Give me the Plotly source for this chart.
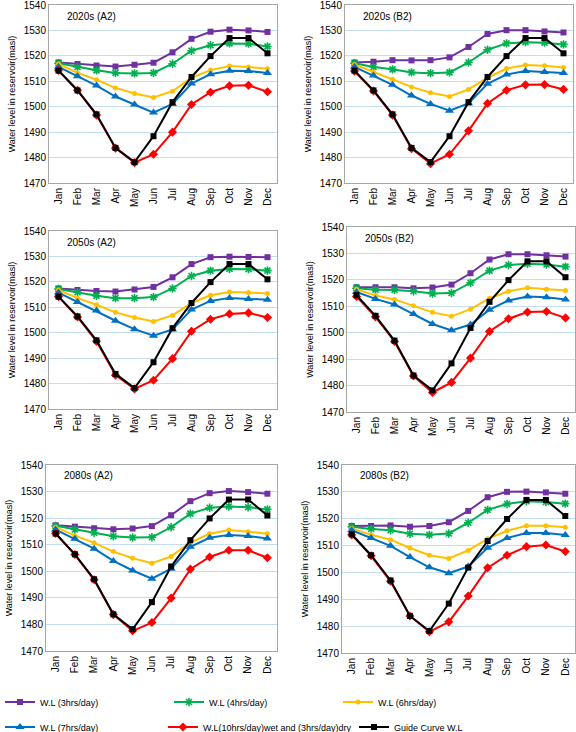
import plotly.graph_objects as go

months = ["Jan", "Feb", "Mar", "Apr", "May", "Jun", "Jul", "Aug", "Sep", "Oct", "Nov", "Dec"]
y_ticks = [1470, 1480, 1490, 1500, 1510, 1520, 1530, 1540]

guide_curve = [1514.2, 1506.4, 1497.0, 1483.8, 1478.2, 1488.4, 1501.8, 1511.7, 1519.9, 1527.0, 1527.0, 1521.0]

# 2020s (A2)
a2_2020_3h = [1517.4, 1516.8, 1516.2, 1515.8, 1516.5, 1517.3, 1521.4, 1526.7, 1529.5, 1530.3, 1530.0, 1529.4]
a2_2020_4h = [1517.1, 1515.6, 1514.3, 1513.3, 1513.1, 1513.3, 1516.9, 1522.0, 1524.2, 1524.9, 1524.8, 1523.7]
a2_2020_6h = [1516.8, 1513.3, 1510.6, 1507.4, 1505.2, 1503.6, 1506.1, 1511.4, 1514.4, 1516.0, 1515.6, 1514.9]
a2_2020_7h = [1515.7, 1512.0, 1508.3, 1504.0, 1500.9, 1497.7, 1501.1, 1509.1, 1512.8, 1514.1, 1514.0, 1513.3]
a2_2020_10h = [1514.3, 1506.5, 1496.7, 1483.7, 1478.0, 1481.3, 1490.0, 1500.9, 1505.7, 1508.2, 1508.4, 1505.9]

# 2020s (B2)
b2_2020_3h = [1517.4, 1517.7, 1518.3, 1518.2, 1518.3, 1519.4, 1523.5, 1528.6, 1530.1, 1530.1, 1529.6, 1529.2]
b2_2020_4h = [1517.1, 1515.6, 1514.7, 1513.5, 1513.2, 1513.5, 1517.4, 1522.4, 1524.9, 1525.4, 1525.2, 1524.5]
b2_2020_6h = [1516.6, 1513.6, 1510.8, 1507.8, 1505.5, 1504.0, 1506.8, 1511.4, 1515.0, 1516.4, 1516.1, 1515.4]
b2_2020_7h = [1515.7, 1512.3, 1508.6, 1504.4, 1501.1, 1498.4, 1501.3, 1509.0, 1512.7, 1514.0, 1513.7, 1513.3]
b2_2020_10h = [1514.0, 1506.2, 1496.7, 1483.5, 1477.6, 1481.3, 1490.5, 1501.3, 1506.5, 1508.6, 1508.7, 1506.8]

# 2050s (A2)
a2_2050_3h = [1517.4, 1516.8, 1516.4, 1516.2, 1517.0, 1518.0, 1521.8, 1527.0, 1529.7, 1529.9, 1529.8, 1529.7]
a2_2050_4h = [1517.2, 1515.9, 1514.5, 1513.6, 1513.6, 1514.0, 1517.4, 1522.3, 1524.4, 1525.1, 1525.0, 1524.4]
a2_2050_6h = [1516.8, 1513.6, 1511.0, 1508.0, 1506.0, 1504.4, 1506.8, 1511.7, 1514.7, 1516.0, 1515.8, 1515.4]
a2_2050_7h = [1515.8, 1512.1, 1508.7, 1504.7, 1501.4, 1498.8, 1501.3, 1509.1, 1512.5, 1513.7, 1513.3, 1513.0]
a2_2050_10h = [1514.2, 1506.2, 1496.6, 1483.3, 1477.9, 1481.3, 1489.8, 1500.6, 1505.3, 1507.4, 1507.8, 1506.0]

# 2050s (B2)
b2_2050_3h = [1517.2, 1517.2, 1517.2, 1516.8, 1517.1, 1518.2, 1522.5, 1527.7, 1529.7, 1529.7, 1529.3, 1528.8]
b2_2050_4h = [1516.8, 1516.3, 1516.2, 1515.7, 1514.8, 1515.0, 1518.9, 1523.5, 1525.6, 1526.1, 1525.8, 1525.0]
b2_2050_6h = [1516.4, 1514.1, 1512.6, 1510.2, 1507.7, 1506.2, 1508.9, 1513.0, 1515.7, 1517.0, 1516.4, 1516.0]
b2_2050_7h = [1515.4, 1512.8, 1510.7, 1507.1, 1503.3, 1500.9, 1503.1, 1508.7, 1512.2, 1513.7, 1513.4, 1512.6]
b2_2050_10h = [1513.7, 1506.0, 1496.7, 1483.6, 1477.4, 1481.2, 1490.4, 1500.5, 1505.3, 1507.8, 1508.0, 1505.6]

# 2080s (A2)
a2_2080_3h = [1517.3, 1516.8, 1516.2, 1515.8, 1516.1, 1517.0, 1521.1, 1526.4, 1529.4, 1530.2, 1529.8, 1529.2]
a2_2080_4h = [1517.1, 1515.7, 1514.5, 1513.2, 1512.7, 1512.8, 1516.6, 1521.7, 1523.9, 1524.4, 1524.1, 1523.3]
a2_2080_6h = [1516.6, 1513.4, 1510.7, 1507.4, 1504.9, 1503.0, 1505.6, 1510.9, 1514.1, 1515.5, 1514.9, 1514.1]
a2_2080_7h = [1515.7, 1512.2, 1508.5, 1503.9, 1500.3, 1497.2, 1501.0, 1509.2, 1512.6, 1513.7, 1513.3, 1512.3]
a2_2080_10h = [1514.2, 1506.3, 1496.8, 1483.7, 1477.6, 1480.7, 1489.9, 1500.8, 1505.4, 1507.9, 1507.9, 1505.1]

# 2080s (B2)
b2_2080_3h = [1517.3, 1517.3, 1517.5, 1517.0, 1517.3, 1518.7, 1522.9, 1528.0, 1530.0, 1530.1, 1529.8, 1529.3]
b2_2080_4h = [1517.0, 1516.2, 1515.7, 1514.4, 1514.0, 1514.5, 1518.5, 1523.3, 1525.5, 1526.5, 1526.2, 1525.6]
b2_2080_6h = [1516.4, 1514.0, 1512.2, 1509.1, 1506.4, 1505.2, 1508.2, 1512.5, 1515.5, 1517.4, 1517.4, 1516.8]
b2_2080_7h = [1515.7, 1512.8, 1509.9, 1505.7, 1501.9, 1499.7, 1502.2, 1509.2, 1512.8, 1514.7, 1514.7, 1513.9]
b2_2080_10h = [1514.0, 1506.2, 1496.7, 1483.8, 1477.9, 1481.6, 1491.2, 1501.7, 1506.4, 1509.6, 1510.2, 1507.8]

panel_titles = ["2020s (A2)", "2020s (B2)", "2050s (A2)", "2050s (B2)", "2080s (A2)", "2080s (B2)"]
panel_series = [
    [a2_2020_3h, a2_2020_4h, a2_2020_6h, a2_2020_7h, a2_2020_10h],
    [b2_2020_3h, b2_2020_4h, b2_2020_6h, b2_2020_7h, b2_2020_10h],
    [a2_2050_3h, a2_2050_4h, a2_2050_6h, a2_2050_7h, a2_2050_10h],
    [b2_2050_3h, b2_2050_4h, b2_2050_6h, b2_2050_7h, b2_2050_10h],
    [a2_2080_3h, a2_2080_4h, a2_2080_6h, a2_2080_7h, a2_2080_10h],
    [b2_2080_3h, b2_2080_4h, b2_2080_6h, b2_2080_7h, b2_2080_10h],
]
series_names = ["W.L (3hrs/day)", "W.L (4hrs/day)", "W.L (6hrs/day)",
                "W.L (7hrs/day)", "W.L(10hrs/day)wet and (3hrs/day)dry", "Guide Curve W.L"]

colors = ["#7030A0", "#00B050", "#FFC000", "#0070C0", "#FF0000", "#000000"]
symbols = ["square", "asterisk-open", "circle", "triangle-up", "diamond", "square"]
msizes = [6, 7, 5, 8, 7, 6]
legend_of = ["legend", "legend", "legend", "legend2", "legend4", "legend3"]

W, H = 576, 732
# plot-area pixel boxes: (left, right, top, bottom)
boxes = [(49, 277, 5, 183), (345, 573, 5, 183),
         (49, 277, 231, 409), (347, 575, 227, 412),
         (46, 277, 465, 651), (342, 575, 465, 653)]

fig = go.Figure()
FONT = "Liberation Sans, Arial, sans-serif"
layout_axes = {}
annotations = []
for i, (title, series) in enumerate(zip(panel_titles, panel_series)):
    n = i + 1
    xa = "x" if n == 1 else f"x{n}"
    ya = "y" if n == 1 else f"y{n}"
    all_series = series + [guide_curve]
    for k, ys in enumerate(all_series):
        mk = dict(symbol=symbols[k], size=msizes[k], color=colors[k])
        if symbols[k] == "asterisk-open":
            mk["line"] = dict(color=colors[k], width=1.6)
        fig.add_trace(go.Scatter(
            x=months, y=ys, mode="lines+markers", name=series_names[k],
            line=dict(color=colors[k], width=2), marker=mk,
            xaxis=xa, yaxis=ya, showlegend=(n == 1), legend=legend_of[k],
        ))
    l, r, t, b = boxes[i]
    xkey = "xaxis" if n == 1 else f"xaxis{n}"
    ykey = "yaxis" if n == 1 else f"yaxis{n}"
    layout_axes[xkey] = dict(
        domain=[l / W, r / W], anchor=ya, type="category", range=[-0.5, 11.5],
        tickangle=-90, tickfont=dict(size=10, color="#000000", family=FONT),
        showgrid=False, showline=True, linecolor="#A6A6A6", mirror=True,
        ticks="", zeroline=False, ticklabeloverflow="allow",
    )
    layout_axes[ykey] = dict(
        domain=[1 - b / H, 1 - t / H], anchor=xa, range=[1470, 1540],
        tickvals=y_ticks, tickfont=dict(size=10, color="#000000", family=FONT),
        showgrid=True, gridcolor="#C5DDF0", gridwidth=1,
        showline=True, linecolor="#A6A6A6", mirror=True, ticks="", zeroline=False,
        ticklabeloverflow="allow",
        title=dict(text="Water level in reservoir(masl)",
                   font=dict(size=9, color="#000000", family=FONT), standoff=6),
    )
    annotations.append(dict(
        text=title, xref="paper", yref="paper",
        x=(l + 16) / W, y=1 - (t + 11) / H, xanchor="left", yanchor="middle",
        showarrow=False, font=dict(size=10, color="#000000", family=FONT),
    ))

legend_base = dict(
    orientation="h", xanchor="left", yanchor="middle", traceorder="normal",
    font=dict(size=9, family=FONT, color="#000000"),
    itemwidth=30, bgcolor="rgba(0,0,0,0)",
)
legend_grid = dict(entrywidth=124, entrywidthmode="pixels", **legend_base)

fig.update_layout(
    width=W, height=H,
    margin=dict(l=0, r=0, t=0, b=0, autoexpand=False),
    paper_bgcolor="white", plot_bgcolor="white",
    font=dict(family=FONT, size=10, color="#000000"),
    annotations=annotations,
    legend=dict(x=0, y=1 - 702 / H, **legend_grid),
    legend2=dict(x=0, y=1 - 727 / H, **legend_grid),
    legend4=dict(x=163 / W, y=1 - 727 / H, **legend_base),
    legend3=dict(x=354 / W, y=1 - 727 / H, **legend_base),
    **layout_axes,
)

fig.write_html("out.html", config={"displayModeBar": False},
               post_script="document.body.style.margin='0px';document.body.style.overflow='hidden';")
